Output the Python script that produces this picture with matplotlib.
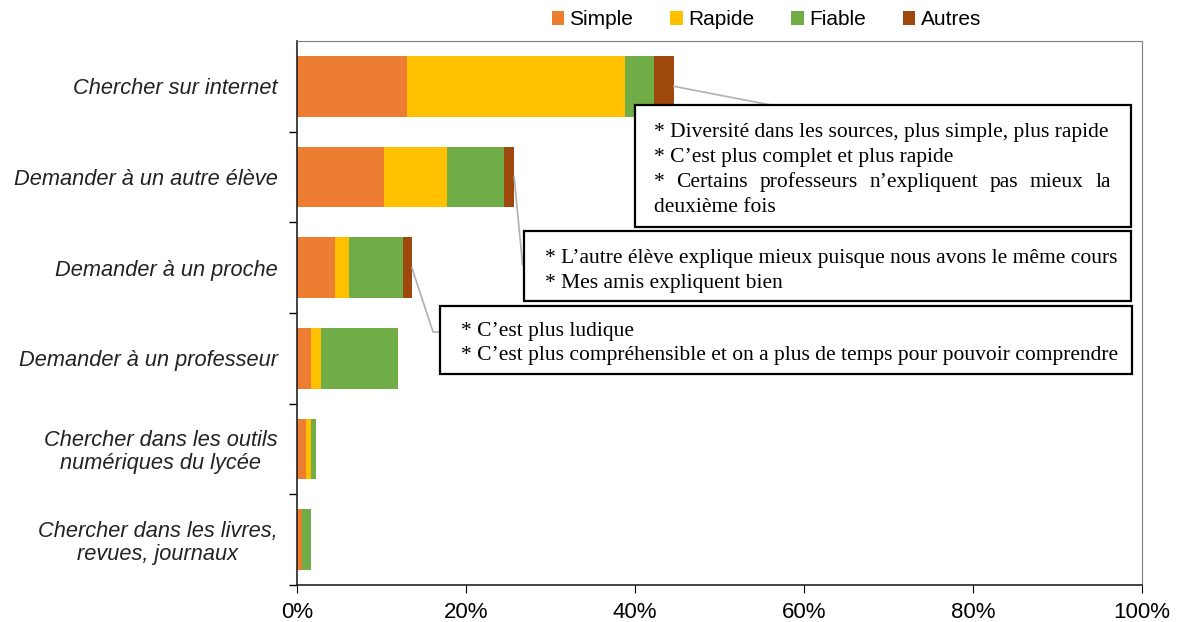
import numpy as np
import matplotlib.pyplot as plt
from matplotlib.patches import Rectangle
from matplotlib.ticker import FixedLocator, PercentFormatter

# Data (percent of answers)
categories = ["Chercher sur internet",
              "Demander à un autre élève",
              "Demander à un proche",
              "Demander à un professeur",
              "Chercher dans les outils\nnumériques du lycée",
              "Chercher dans les livres,\nrevues, journaux"]
series = ["Simple", "Rapide", "Fiable", "Autres"]
simple = [13.0, 10.3, 4.5, 1.7, 1.1, 0.6]
rapide = [25.8, 7.4, 1.7, 1.1, 0.6, 0.0]
fiable = [3.5, 6.8, 6.4, 9.2, 0.5, 1.1]
autres = [2.3, 1.2, 1.0, 0.0, 0.0, 0.0]
colors = ["#ED7D31", "#FFC000", "#70AD47", "#9E480E"]

notes_internet = ["* Diversité dans les sources, plus simple, plus rapide",
                  "* C’est plus complet et plus rapide",
                  "* Certains professeurs n’expliquent pas mieux la",
                  "deuxième fois"]
notes_eleve = ["* L’autre élève explique mieux puisque nous avons le même cours",
               "* Mes amis expliquent bien"]
notes_proche = ["* C’est plus ludique",
                "* C’est plus compréhensible et on a plus de temps pour pouvoir comprendre"]

fig = plt.figure(figsize=(11.77, 6.22), dpi=100)
ax = fig.add_axes([0.2523, 0.0595, 0.7180, 0.8746])

y = np.arange(len(categories))
left = np.zeros(len(categories))
for name, vals, c in zip(series, [simple, rapide, fiable, autres], colors):
    ax.barh(y, vals, left=left, height=0.67, color=c, label=name)
    left += np.array(vals)
totals = left

ax.set_xlim(0, 100)
ax.set_ylim(len(categories) - 0.5, -0.5)
ax.set_xticks(np.arange(0, 101, 20))
ax.xaxis.set_major_formatter(PercentFormatter(decimals=0))
ax.set_yticks(y)
ax.set_yticklabels(categories, fontstyle="italic", fontsize=15.7,
                   family="Liberation Sans", color="#222222", ha="right",
                   multialignment="center", linespacing=1.1)
ax.yaxis.set_minor_locator(FixedLocator(np.arange(0.5, len(categories), 1)))
ax.tick_params(axis="y", which="major", length=0, pad=14)
ax.tick_params(axis="y", which="minor", length=6, width=1, direction="out")
ax.tick_params(axis="x", length=6, direction="out", labelsize=16, pad=6)
for lab in ax.get_xticklabels():
    lab.set_family("Liberation Sans")
for side in ["top", "right"]:
    ax.spines[side].set_color("#7f7f7f")
for side in ["left", "bottom"]:
    ax.spines[side].set_color("#222222")
    ax.spines[side].set_linewidth(1.2)

fig.legend(loc="center", bbox_to_anchor=(0.651, 0.968), ncol=4, frameon=False,
           handlelength=0.6, handleheight=0.6, handletextpad=0.25,
           columnspacing=1.78, prop={"family": "Liberation Sans", "size": 15})

# annotation boxes (x in %, y in category units)
serif = {"family": "Liberation Serif", "size": 15.5}
line_h = 0.274


def note_box(x0, x1, y0, y1, tx, ty, lines, justify=None):
    ax.add_patch(Rectangle((x0, y0), x1 - x0, y1 - y0, fill=True, fc="white",
                           ec="black", lw=1.6, zorder=5))
    for k, line in enumerate(lines):
        yy = ty + k * line_h
        if justify is not None and k == justify[0]:
            words = line.split(" ")
            texts = [ax.text(tx, yy, w, va="center", ha="left", zorder=6, **serif)
                     for w in words]
            fig.canvas.draw()
            inv = ax.transData.inverted()
            widths = []
            for t in texts:
                bb = t.get_window_extent()
                widths.append(inv.transform((bb.x1, 0))[0] - inv.transform((bb.x0, 0))[0])
            gap = (justify[1] - tx - sum(widths)) / (len(words) - 1)
            xx = tx
            for t, w in zip(texts, widths):
                t.set_x(xx)
                xx += w + gap
        else:
            ax.text(tx, yy, line, va="center", ha="left", zorder=6, **serif)


note_box(40.0, 98.7, 0.21, 1.55, 42.2, 0.51, notes_internet, justify=(2, 96.3))
note_box(26.9, 98.7, 1.60, 2.37, 29.3, 1.90, notes_eleve)
note_box(16.9, 98.8, 2.42, 3.17, 19.4, 2.70, notes_proche)

# leader lines from bar ends to boxes
lc = "#b0b0b0"
ax.plot([totals[0], 56.3], [0, 0.21], color=lc, lw=1.2, zorder=4)
ax.plot([totals[1], 26.7], [1, 1.97], color=lc, lw=1.2, zorder=4)
ax.plot([totals[2], 16.1, 16.9], [2, 2.71, 2.71], color=lc, lw=1.2, zorder=4)

fig.savefig("out.png", dpi=100)
